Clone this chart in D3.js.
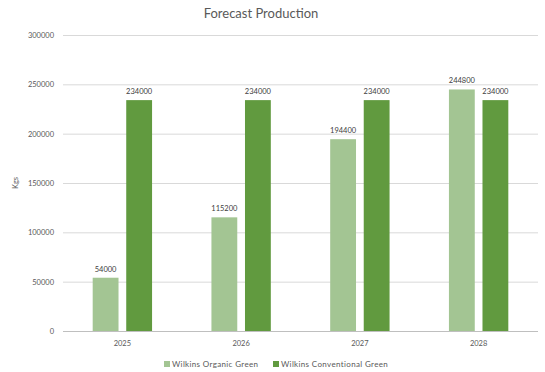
<!DOCTYPE html>
<html>
<head>
<meta charset="utf-8">
<script src="https://cdn.jsdelivr.net/npm/d3@7"></script>
<style>
  body { margin: 0; background: #fff; }
  text { font-family: Lato, "Open Sans", sans-serif; }
</style>
</head>
<body>
<div id="chart"></div>
<script>
var years = ['2025', '2026', '2027', '2028'];
var seriesNames = ['Wilkins Organic Green', 'Wilkins Conventional Green'];
var organicValues = [54000, 115200, 194400, 244800];
var conventionalValues = [234000, 234000, 234000, 234000];
var yTicks = [0, 50000, 100000, 150000, 200000, 250000, 300000];
var colours = ['#A3C593', '#619A3F'];

var width = 545, height = 372;
var margin = { top: 35, right: 7, bottom: 41, left: 63 };

var data = years.map(function (y, i) {
    return { year: y, values: [organicValues[i], conventionalValues[i]] };
});

var svg = d3.select('#chart')
    .append('svg')
    .attr('width', width)
    .attr('height', height);

var x0 = d3.scaleBand()
    .domain(years)
    .range([margin.left, width - margin.right])
    .paddingInner(0.5)
    .paddingOuter(0.25);

var x1 = d3.scaleBand()
    .domain([0, 1])
    .range([0, x0.bandwidth()])
    .paddingInner(0.23);

var yScale = d3.scaleLinear()
    .domain([0, 300000])
    .range([height - margin.bottom, margin.top]);

// gridlines
svg.append('g')
    .selectAll('line')
    .data(yTicks)
    .join('line')
    .attr('x1', margin.left)
    .attr('x2', width - margin.right)
    .attr('y1', d => yScale(d) + 0.5)
    .attr('y2', d => yScale(d) + 0.5)
    .attr('stroke', d => d === 0 ? '#bfbfbf' : '#d9d9d9')
    .attr('stroke-width', 1);

// y axis labels
var yAxis = d3.axisLeft(yScale).tickValues(yTicks).tickSize(0).tickPadding(9).tickFormat(d3.format('d'));
svg.append('g')
    .attr('transform', 'translate(' + margin.left + ',0)')
    .call(yAxis)
    .call(g => g.select('.domain').remove())
    .selectAll('text')
    .style('font-size', '7.5px')
    .attr('fill', '#595959');

// x axis labels
var xAxis = d3.axisBottom(x0).tickSize(0).tickPadding(10);
svg.append('g')
    .attr('transform', 'translate(0,' + (height - margin.bottom) + ')')
    .call(xAxis)
    .call(g => g.select('.domain').remove())
    .selectAll('text')
    .style('font-size', '7.5px')
    .attr('fill', '#595959');

// bars
var groups = svg.append('g')
    .selectAll('g')
    .data(data)
    .join('g')
    .attr('transform', d => 'translate(' + x0(d.year) + ',0)');

groups.selectAll('rect')
    .data(d => d.values.map((v, i) => ({ i: i, v: v })))
    .join('rect')
    .attr('x', d => x1(d.i))
    .attr('y', d => yScale(d.v))
    .attr('width', x1.bandwidth())
    .attr('height', d => yScale(0) - yScale(d.v))
    .attr('fill', d => colours[d.i]);

groups.selectAll('text')
    .data(d => d.values.map((v, i) => ({ i: i, v: v })))
    .join('text')
    .attr('x', d => x1(d.i) + x1.bandwidth() / 2)
    .attr('y', d => yScale(d.v) - 6)
    .attr('text-anchor', 'middle')
    .style('font-size', '7.5px')
    .attr('fill', '#404040')
    .text(d => d.v);

// title
svg.append('text')
    .attr('x', 261)
    .attr('y', 18)
    .attr('text-anchor', 'middle')
    .style('font-size', '13px')
    .attr('fill', '#595959')
    .text('Forecast Production');

// y axis title
svg.append('text')
    .attr('transform', 'translate(18,' + yScale(150000) + ') rotate(-90)')
    .attr('text-anchor', 'middle')
    .style('font-size', '7.5px')
    .attr('fill', '#595959')
    .text('Kgs');

// legend
var legendX = [164, 273];
var legend = svg.append('g')
    .selectAll('g')
    .data(seriesNames)
    .join('g')
    .attr('transform', (d, i) => 'translate(' + legendX[i] + ',364)');

legend.append('rect')
    .attr('x', 0)
    .attr('y', -3)
    .attr('width', 6)
    .attr('height', 6)
    .attr('fill', (d, i) => colours[i]);

legend.append('text')
    .attr('x', 8)
    .attr('y', 2.8)
    .style('font-size', '8px')
    .style('letter-spacing', '0.35px')
    .attr('fill', '#595959')
    .text(d => d);
</script>
</body>
</html>
